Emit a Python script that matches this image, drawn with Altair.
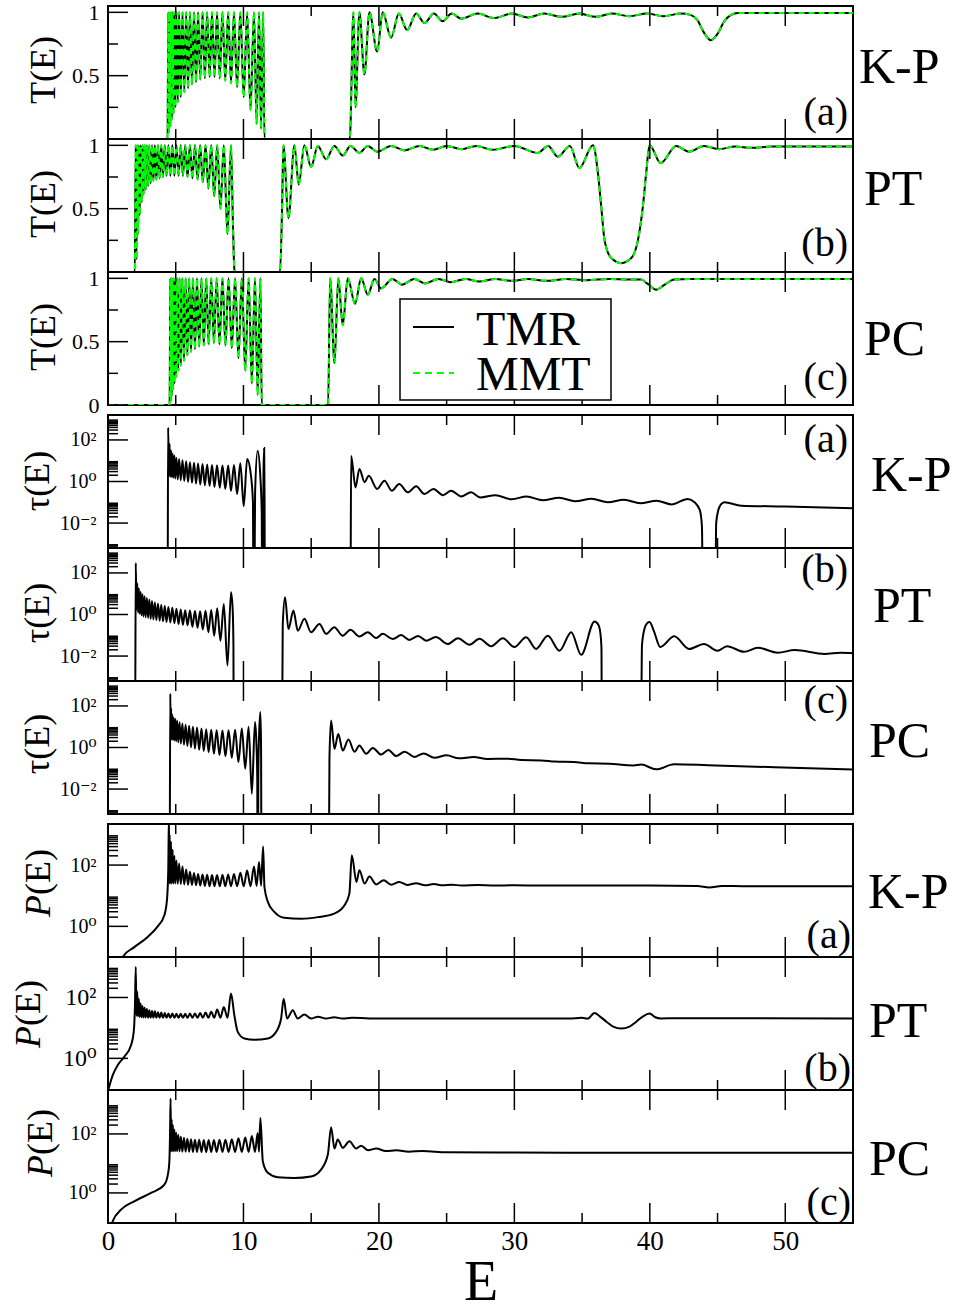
import altair as alt
import pandas as pd

FONT = "Liberation Serif"
W, H = 745, 133
TMAJ, TMIN = 20, 10

# ---------------- tick / label values ----------------
E_MAJOR_TICKS = [0, 10, 20, 30, 40, 50]
E_MINOR_TICKS = [5, 15, 25, 35, 45]
T_MAJOR_TICKS = [0, 0.5, 1]
T_MINOR_TICKS = [0.25, 0.75]
TAU_MAJOR_TICKS = [0.01, 1, 100]
TAU_MINOR_TICKS = [7e-4, 8e-4, 9e-4,
                   0.02, 0.03, 0.04, 0.05, 0.06, 0.07, 0.08, 0.09,
                   2, 3, 4, 5, 6, 7, 8, 9,
                   200, 300, 400, 500, 600, 700, 800, 900]
P_MAJOR_TICKS = [1, 100]
P_MINOR_TICKS = [2, 3, 4, 5, 6, 7, 8, 9, 200, 300, 400, 500, 600, 700, 800, 900]

# ---------------- data: (E, value) ----------------
T_KP = [(0, 0), (4.38, 0), (4.40, 0), (4.45, 1.0), (4.50, 0.05), (4.55, 1.0), (4.60, 0.10), (4.65, 1.0),
        (4.71, 0.15), (4.77, 1.0), (4.83, 0.20), (4.90, 1.0), (4.97, 0.25), (5.05, 1.0), (5.15, 0.29),
        (5.25, 1.0), (5.37, 0.33), (5.50, 1.0), (5.63, 0.37), (5.77, 1.0), (5.91, 0.40), (6.05, 1.0),
        (6.20, 0.43), (6.35, 1.0), (6.50, 0.45), (6.65, 1.0), (6.81, 0.47), (6.98, 1.0), (7.15, 0.48),
        (7.32, 1.0), (7.50, 0.49), (7.68, 1.0), (7.86, 0.49), (8.05, 1.0), (8.25, 0.48), (8.45, 1.0),
        (8.66, 0.46), (8.87, 1.0), (9.08, 0.44), (9.30, 1.0), (9.53, 0.41), (9.77, 1.0), (10.02, 0.33),
        (10.27, 1.0), (10.52, 0.23), (10.78, 1.0), (10.97, 0.12), (11.15, 1.0), (11.30, 0.08), (11.45, 1.0),
        (11.55, 0.0), (17.85, 0.0), (18.12, 1.0), (18.27, 0.25), (18.56, 1.0), (18.93, 0.51), (19.30, 1.0),
        (19.87, 0.69), (20.28, 1.0), (20.90, 0.80), (21.47, 0.99), (22.08, 0.86), (22.75, 0.99),
        (23.36, 0.915), (24.05, 0.99), (24.70, 0.93), (25.38, 0.99), (26.07, 0.95), (27.30, 0.99),
        (28.50, 0.955), (29.80, 0.99), (31.00, 0.96), (32.20, 0.99), (33.50, 0.965), (34.80, 0.99),
        (36.00, 0.965), (37.20, 0.99), (38.50, 0.97), (39.80, 0.99), (41.00, 0.97), (42.30, 0.99),
        (43.00, 0.98), (43.50, 0.94), (44.00, 0.84), (44.50, 0.78), (45.00, 0.83), (45.50, 0.93),
        (46.00, 0.98), (46.50, 0.995), (55.0, 0.995)]

T_PT = [(0, 0), (1.98, 0), (2.05, 1.0), (2.10, 0.10), (2.16, 1.0), (2.22, 0.30), (2.28, 1.0), (2.34, 0.45),
        (2.41, 1.0), (2.48, 0.55), (2.55, 1.0), (2.62, 0.61), (2.70, 1.0), (2.78, 0.65), (2.87, 1.0),
        (2.96, 0.68), (3.05, 1.0), (3.15, 0.70), (3.25, 1.0), (3.35, 0.72), (3.46, 1.0), (3.57, 0.73),
        (3.69, 1.0), (3.81, 0.74), (3.93, 1.0), (4.06, 0.75), (4.19, 1.0), (4.32, 0.76), (4.46, 1.0),
        (4.60, 0.76), (4.75, 1.0), (4.90, 0.76), (5.05, 1.0), (5.21, 0.76), (5.37, 1.0), (5.53, 0.76),
        (5.70, 1.0), (5.87, 0.75), (6.05, 1.0), (6.23, 0.74), (6.42, 1.0), (6.61, 0.73), (6.80, 1.0),
        (7.00, 0.71), (7.20, 1.0), (7.41, 0.66), (7.62, 1.0), (7.84, 0.60), (8.06, 1.0), (8.30, 0.50),
        (8.55, 1.0), (8.82, 0.30), (9.08, 1.0), (9.22, 0.40), (9.33, 0.02), (9.45, 0.0), (12.70, 0.0),
        (12.85, 0.5), (12.95, 1.0), (13.32, 0.425), (13.76, 1.0), (14.08, 0.69), (14.50, 1.0),
        (14.99, 0.83), (15.49, 0.995), (16.10, 0.89), (16.71, 0.995), (17.33, 0.92), (17.90, 0.995),
        (18.56, 0.94), (19.18, 0.995), (19.87, 0.95), (20.90, 0.995), (21.90, 0.96), (23.00, 0.995),
        (24.00, 0.965), (25.00, 0.995), (26.10, 0.97), (27.20, 0.995), (28.40, 0.965), (30.00, 0.995),
        (31.70, 0.94), (32.50, 0.995), (33.20, 0.91), (34.10, 0.995), (34.80, 0.82), (35.80, 1.0),
        (36.17, 0.78), (36.41, 0.52), (36.66, 0.25), (37.15, 0.11), (37.89, 0.07), (38.63, 0.11),
        (39.12, 0.25), (39.49, 0.52), (39.73, 0.78), (39.98, 1.0), (40.80, 0.86), (41.95, 0.995),
        (42.90, 0.95), (44.00, 0.995), (45.10, 0.97), (46.30, 0.99), (47.50, 0.98), (49.00, 0.99),
        (55.0, 0.99)]

T_PC = [(0, 0), (4.55, 0), (4.60, 1.0), (4.63, 0.03), (4.66, 1.0), (4.70, 0.07), (4.74, 1.0), (4.79, 0.12),
        (4.84, 1.0), (4.90, 0.17), (4.96, 1.0), (5.03, 0.22), (5.10, 1.0), (5.19, 0.27), (5.28, 1.0),
        (5.38, 0.31), (5.49, 1.0), (5.61, 0.35), (5.73, 1.0), (5.86, 0.39), (5.99, 1.0), (6.13, 0.42),
        (6.27, 1.0), (6.42, 0.44), (6.57, 1.0), (6.73, 0.46), (6.90, 1.0), (7.07, 0.47), (7.25, 1.0),
        (7.43, 0.48), (7.62, 1.0), (7.82, 0.49), (8.02, 1.0), (8.23, 0.48), (8.45, 1.0), (8.67, 0.47),
        (8.90, 1.0), (9.14, 0.45), (9.38, 1.0), (9.63, 0.37), (9.88, 1.0), (10.13, 0.27), (10.38, 1.0),
        (10.62, 0.17), (10.85, 1.0), (11.05, 0.08), (11.25, 1.0), (11.35, 0.0), (16.25, 0.0), (16.40, 1.0),
        (16.72, 0.33), (17.00, 1.0), (17.33, 0.63), (17.70, 1.0), (18.24, 0.80), (18.69, 1.0), (19.18, 0.87),
        (19.67, 0.995), (20.16, 0.92), (21.0, 0.995), (21.7, 0.95), (22.6, 0.995), (23.4, 0.96),
        (24.4, 0.995), (25.3, 0.97), (26.4, 0.995), (27.4, 0.975), (28.6, 0.995), (29.8, 0.98),
        (31.0, 0.995), (32.4, 0.98), (33.8, 0.995), (35.3, 0.985), (37.0, 0.995), (38.5, 0.99),
        (39.37, 0.99), (39.8, 0.96), (40.47, 0.91), (41.1, 0.95), (41.8, 0.99), (43.0, 0.995), (55.0, 0.995)]

TAU_KP = [(0, 1e-6), (4.40, 1e-6), (4.44, 400), (4.50, 1.8), (4.55, 63), (4.60, 1.7), (4.65, 32), (4.71, 1.6),
          (4.77, 22), (4.83, 1.5), (4.90, 18), (4.97, 1.4), (5.05, 14), (5.15, 1.26), (5.25, 12), (5.37, 1.15),
          (5.50, 10.5), (5.63, 1.05), (5.77, 9.3), (5.91, 0.95), (6.05, 8.5), (6.20, 0.87), (6.35, 7.9),
          (6.50, 0.79), (6.65, 7.4), (6.81, 0.72), (6.98, 6.9), (7.15, 0.66), (7.32, 6.6), (7.50, 0.6),
          (7.68, 6.3), (7.86, 0.55), (8.05, 6.0), (8.25, 0.5), (8.45, 5.9), (8.66, 0.44), (8.87, 5.9),
          (9.08, 0.35), (9.30, 6.3), (9.53, 0.25), (9.77, 7.6), (10.02, 0.065), (10.27, 12), (10.55, 2.0),
          (10.70, 0.1), (10.74, 1e-6), (10.80, 1e-6), (10.86, 0.32), (11.05, 30), (11.25, 1.6), (11.35, 0.032),
          (11.38, 1e-6), (11.44, 1e-6), (11.48, 3.2), (11.53, 41), (11.56, 0.1), (11.58, 1e-6), (17.90, 1e-6),
          (17.95, 17), (18.27, 0.52), (18.56, 4.0), (18.94, 0.93), (19.25, 1.9), (19.87, 0.44), (20.41, 1.1),
          (20.95, 0.36), (21.50, 0.76), (22.13, 0.3), (22.75, 0.59), (23.36, 0.25), (24.03, 0.44),
          (24.72, 0.22), (25.33, 0.36), (26.07, 0.19), (26.80, 0.3), (27.5, 0.17), (28.6, 0.22), (29.8, 0.14),
          (30.9, 0.19), (32.1, 0.126), (33.3, 0.166), (34.5, 0.112), (35.7, 0.148), (36.9, 0.1), (38.1, 0.132),
          (39.3, 0.089), (40.5, 0.12), (41.6, 0.079), (42.8, 0.145), (43.3, 0.1), (43.7, 0.04), (43.85, 0.0063),
          (43.92, 1e-6), (44.83, 1e-6), (44.9, 0.01), (45.05, 0.04), (45.25, 0.079), (45.5, 0.1),
          (46.75, 0.069), (50.0, 0.063), (55.0, 0.051)]

TAU_PT = [(0, 1e-6), (2.00, 1e-6), (2.05, 302), (2.10, 1.58), (2.16, 31.6), (2.22, 1.26), (2.28, 17.8),
          (2.34, 1.05), (2.41, 12.6), (2.48, 0.91), (2.55, 9.5), (2.62, 0.81), (2.70, 7.6), (2.78, 0.74),
          (2.87, 6.3), (2.96, 0.68), (3.05, 5.2), (3.15, 0.62), (3.25, 4.5), (3.35, 0.58), (3.46, 3.8),
          (3.57, 0.54), (3.69, 3.3), (3.81, 0.5), (3.93, 2.9), (4.06, 0.47), (4.19, 2.6), (4.32, 0.44),
          (4.46, 2.3), (4.60, 0.41), (4.75, 2.1), (4.90, 0.38), (5.05, 1.9), (5.21, 0.35), (5.37, 1.74),
          (5.53, 0.32), (5.70, 1.62), (5.87, 0.3), (6.05, 1.55), (6.23, 0.26), (6.42, 1.48), (6.61, 0.23),
          (6.80, 1.45), (7.00, 0.19), (7.20, 1.51), (7.41, 0.14), (7.62, 1.66), (7.84, 0.095), (8.06, 2.0),
          (8.30, 0.055), (8.55, 3.2), (8.82, 0.0035), (9.08, 11.7), (9.20, 2.0), (9.26, 0.032), (9.28, 1e-6),
          (12.85, 1e-6), (12.90, 0.32), (13.07, 6.8), (13.32, 0.2), (13.69, 1.55), (14.01, 0.166),
          (14.50, 0.62), (14.99, 0.14), (15.61, 0.35), (16.10, 0.117), (16.71, 0.245), (17.33, 0.095),
          (17.90, 0.186), (18.56, 0.087), (19.18, 0.141), (19.80, 0.074), (20.28, 0.117), (21.03, 0.066),
          (21.64, 0.102), (22.25, 0.06), (22.90, 0.093), (23.49, 0.055), (24.20, 0.083), (25.09, 0.038),
          (25.83, 0.072), (26.69, 0.035), (27.42, 0.068), (28.29, 0.03), (29.15, 0.072), (30.00, 0.027),
          (30.87, 0.081), (31.60, 0.022), (32.47, 0.095), (33.33, 0.018), (34.20, 0.141), (34.93, 0.0115),
          (35.92, 0.46), (36.20, 0.32), (36.35, 0.126), (36.43, 0.025), (36.46, 1e-6), (39.35, 1e-6),
          (39.42, 0.032), (39.60, 0.2), (39.80, 0.38), (39.98, 0.43), (40.30, 0.16), (40.77, 0.027),
          (41.80, 0.089), (42.90, 0.022), (44.00, 0.038), (45.00, 0.018), (45.70, 0.03), (46.96, 0.016),
          (47.98, 0.025), (49.45, 0.0145), (50.70, 0.0195), (52.90, 0.0126), (54.10, 0.0145), (55.0, 0.0138)]

TAU_PC = [(0, 1e-6), (4.55, 1e-6), (4.60, 389), (4.63, 2.5), (4.66, 79), (4.70, 2.4), (4.74, 40), (4.79, 2.3),
          (4.84, 28), (4.90, 2.2), (4.96, 24.5), (5.03, 2.0), (5.10, 20), (5.19, 1.78), (5.28, 16.6),
          (5.38, 1.55), (5.49, 14.1), (5.61, 1.35), (5.73, 12.6), (5.86, 1.17), (5.99, 11.2), (6.13, 1.02),
          (6.27, 10), (6.42, 0.89), (6.57, 9.1), (6.73, 0.78), (6.90, 8.3), (7.07, 0.68), (7.25, 7.6),
          (7.43, 0.59), (7.62, 7.1), (7.82, 0.5), (8.02, 6.8), (8.23, 0.44), (8.45, 6.6), (8.67, 0.38),
          (8.90, 6.8), (9.14, 0.32), (9.38, 7.2), (9.63, 0.2), (9.88, 8.3), (10.13, 0.095), (10.38, 10),
          (10.62, 0.006), (10.85, 17), (10.95, 2.0), (11.02, 0.032), (11.04, 1e-6), (11.07, 1e-6),
          (11.10, 0.063), (11.15, 3.2), (11.25, 51), (11.30, 1.0), (11.33, 1e-6), (16.30, 1e-6),
          (16.35, 0.32), (16.47, 20), (16.72, 0.85), (17.00, 4.5), (17.33, 0.71), (17.75, 2.4), (18.20, 0.62),
          (18.56, 1.26), (19.05, 0.5), (19.55, 0.95), (20.16, 0.46), (20.70, 0.76), (21.27, 0.39),
          (21.90, 0.63), (22.62, 0.35), (23.30, 0.52), (24.10, 0.32), (25.00, 0.42), (25.90, 0.3),
          (27.00, 0.35), (28.00, 0.28), (29.50, 0.29), (30.50, 0.25), (32.00, 0.24), (33.00, 0.21),
          (34.40, 0.2), (35.50, 0.174), (37.00, 0.166), (38.80, 0.138), (39.37, 0.15), (40.47, 0.089),
          (41.80, 0.155), (44.30, 0.141), (49.20, 0.112), (55.0, 0.087)]

P_KP = [(0.90, 0.05), (1.08, 0.1), (1.94, 0.21), (2.93, 0.45), (3.67, 1.0), (4.16, 2.3), (4.36, 7.9),
        (4.45, 78), (4.50, 4000), (4.53, 25), (4.55, 1000), (4.60, 25), (4.65, 575), (4.71, 25), (4.77, 316),
        (4.83, 25), (4.90, 200), (4.97, 25), (5.05, 141), (5.15, 24.5), (5.25, 112), (5.37, 24), (5.50, 89),
        (5.63, 23.4), (5.77, 71), (5.91, 22.9), (6.05, 60), (6.20, 22.4), (6.35, 55), (6.50, 21.9), (6.65, 51),
        (6.81, 21.4), (6.98, 49), (7.15, 20.9), (7.32, 48), (7.50, 20.4), (7.68, 47), (7.86, 20.4), (8.05, 47),
        (8.25, 20.4), (8.45, 48), (8.66, 20.4), (8.87, 49), (9.08, 20.4), (9.30, 51), (9.53, 20.4), (9.77, 56),
        (10.02, 20.4), (10.27, 66), (10.52, 20.4), (10.78, 89), (10.97, 20.9), (11.15, 126), (11.30, 21.4),
        (11.45, 400), (11.55, 19.5), (11.80, 6.3), (12.28, 2.95), (13.00, 1.9), (14.25, 1.78), (15.50, 2.0),
        (16.70, 2.6), (17.45, 4.8), (17.82, 11.7), (18.00, 209), (18.34, 28), (18.56, 68), (18.94, 25),
        (19.30, 42), (19.80, 23.4), (20.35, 32), (20.90, 22.9), (21.50, 28), (22.10, 22.4), (22.75, 25.7),
        (23.40, 21.9), (24.05, 24), (24.70, 21.9), (25.40, 22.9), (26.10, 21.4), (27.30, 22.4), (28.50, 21.4),
        (30.00, 21.9), (32.00, 21.4), (35.00, 21.4), (40.00, 21.4), (43.50, 20.9), (44.40, 18.6),
        (45.30, 20.9), (47.00, 20.4), (55.0, 20.4)]

P_PT = [(0.02, 0.091), (0.35, 0.28), (0.72, 0.6), (1.20, 1.12), (1.70, 2.7), (1.90, 7.4), (1.99, 55),
        (2.05, 1000), (2.10, 25), (2.16, 158), (2.22, 24), (2.28, 89), (2.34, 23), (2.41, 63), (2.48, 22.4),
        (2.55, 52), (2.62, 21.9), (2.70, 46), (2.78, 21.9), (2.87, 42), (2.96, 21.4), (3.05, 38), (3.15, 21.4),
        (3.25, 36), (3.35, 21.4), (3.46, 35), (3.57, 21.4), (3.69, 33), (3.81, 21.4), (3.93, 32), (4.06, 21.4),
        (4.19, 31), (4.32, 21.4), (4.46, 30), (4.60, 21.4), (4.75, 29.5), (4.90, 21.4), (5.05, 29), (5.21, 21.4),
        (5.37, 29), (5.53, 21.4), (5.70, 29), (5.87, 21.4), (6.05, 29.5), (6.23, 21.4), (6.42, 30), (6.61, 21.4),
        (6.80, 31), (7.00, 21.4), (7.20, 32), (7.41, 21.4), (7.62, 34), (7.84, 21.4), (8.06, 40), (8.30, 21.4),
        (8.55, 49), (8.82, 21.4), (9.08, 135), (9.33, 25.7), (9.58, 7.4), (10.07, 4.5), (10.81, 4.1),
        (11.80, 4.5), (12.41, 7.4), (12.78, 20.4), (12.97, 91), (13.22, 20.4), (13.64, 38), (14.00, 20.4),
        (14.50, 27.5), (14.99, 20.4), (15.50, 23.4), (16.10, 20.4), (16.70, 22.4), (17.30, 20.4), (18.00, 21.4),
        (20.00, 20.4), (25.00, 20.4), (30.00, 20.4), (34.00, 20.4), (35.00, 21.4), (35.40, 20.0), (35.92, 31),
        (36.30, 24), (36.80, 16), (37.30, 11), (37.89, 9.5), (38.50, 11), (39.00, 16), (39.50, 24),
        (39.98, 29.5), (40.40, 22.4), (40.80, 20.4), (42.00, 20.9), (55.0, 20.4)]

P_PC = [(0.30, 0.085), (0.35, 0.11), (0.96, 0.27), (1.94, 0.52), (3.18, 1.0), (4.16, 1.9), (4.45, 5.0),
        (4.53, 11.7), (4.58, 100), (4.62, 1585), (4.66, 26), (4.70, 316), (4.74, 26), (4.79, 200), (4.84, 26),
        (4.90, 141), (4.96, 26), (5.03, 112), (5.10, 25.7), (5.19, 93), (5.28, 25.7), (5.38, 81), (5.49, 25.1),
        (5.61, 74), (5.73, 25.1), (5.86, 69), (5.99, 25.1), (6.13, 66), (6.27, 24.5), (6.42, 63), (6.57, 24.5),
        (6.73, 63), (6.90, 24.5), (7.07, 62), (7.25, 24.5), (7.43, 62), (7.62, 24.5), (7.82, 62), (8.02, 24.5),
        (8.23, 63), (8.45, 24.5), (8.67, 63), (8.90, 24.5), (9.14, 66), (9.38, 24.5), (9.63, 71), (9.88, 24.5),
        (10.13, 76), (10.38, 24.5), (10.62, 85), (10.85, 24.5), (11.05, 107), (11.15, 25.1), (11.25, 347),
        (11.43, 11.7), (11.80, 4.8), (12.53, 3.4), (13.76, 3.2), (14.99, 3.6), (15.73, 6.2), (16.23, 20),
        (16.47, 170), (16.72, 32), (16.96, 65), (17.33, 34), (17.82, 56), (18.32, 32), (18.69, 40),
        (19.20, 28), (19.80, 32), (20.50, 26.3), (21.30, 28), (22.20, 25.1), (23.20, 26.3), (25.00, 24),
        (30.00, 23.4), (40.00, 22.9), (55.0, 22.9)]

LEGEND_NAMES = ["TMR", "MMT"]

# ---------------- scales ----------------
XSCALE = alt.Scale(domain=[0, 55], nice=False, zero=False)
T_SCALE = alt.Scale(domain=[0, 1.05], nice=False, zero=False)
TAU_SCALE = alt.Scale(type="log", domain=[6.31e-4, 1585], nice=False)
P_SCALE_A = alt.Scale(type="log", domain=[0.1, 2188], nice=False)
P_SCALE_B = alt.Scale(type="log", domain=[0.0912, 2138], nice=False)
P_SCALE_C = alt.Scale(type="log", domain=[0.0955, 3090], nice=False)

LABEL_FONT = "Liberation Serif, DejaVu Serif"


def x_axis(bottom=False):
    if not bottom:
        return None
    return alt.Axis(values=E_MAJOR_TICKS, format="d", ticks=False, domain=False, grid=False,
                    labelFont=LABEL_FONT, labelFontSize=27, labelPadding=5, labelFlush=False,
                    labelColor="black", title="E", titleFont=FONT, titleFontSize=56,
                    titleFontWeight="normal", titlePadding=1, titleColor="black")


def y_axis(values, size, pad, expr=None, fmt=None):
    kw = dict(values=values, ticks=False, domain=False, grid=False, labelFont=LABEL_FONT,
              labelFontSize=size, labelPadding=pad, labelColor="black", title=None)
    if expr:
        kw["labelExpr"] = expr
    if fmt:
        kw["format"] = fmt
    return alt.Axis(**kw)


def frame(yscale, yax, xax, ymaj, ymin):
    layers = []
    for vals, L in ((E_MAJOR_TICKS, TMAJ), (E_MINOR_TICKS, TMIN)):
        d = pd.DataFrame({"E": vals})
        layers.append(alt.Chart(d).mark_rule(color="black", strokeWidth=1.5).encode(
            x=alt.X("E:Q", scale=XSCALE, axis=xax), y=alt.value(0), y2=alt.value(L)))
        layers.append(alt.Chart(d).mark_rule(color="black", strokeWidth=1.5).encode(
            x=alt.X("E:Q", scale=XSCALE, axis=xax), y=alt.value(H), y2=alt.value(H - L)))
    for vals, L in ((ymaj, TMAJ), (ymin, TMIN)):
        d = pd.DataFrame({"v": vals})
        layers.append(alt.Chart(d).mark_rule(color="black", strokeWidth=1.5, clip=True).encode(
            y=alt.Y("v:Q", scale=yscale, axis=yax), x=alt.value(0), x2=alt.value(L)))
    return layers


def txt(t, x, y, size, align="left", baseline="alphabetic", angle=0, style="normal"):
    d = pd.DataFrame({"t": [t]})
    return alt.Chart(d).mark_text(font=FONT, fontSize=size, align=align, baseline=baseline,
                                  angle=angle, fontStyle=style, color="black").encode(
        text="t:N", x=alt.value(x), y=alt.value(y))


def t_panel(pairs, yvals, name, name_dx, name_by, tag, tag_by, title_y, legend=False):
    d = pd.DataFrame(pairs, columns=["E", "v"])
    yax = y_axis(yvals, 22, 9, fmt="~g")
    xax = x_axis(False)
    black = alt.Chart(d).mark_line(color="black", strokeWidth=2, clip=True, interpolate="monotone").encode(
        x=alt.X("E:Q", scale=XSCALE, axis=xax), y=alt.Y("v:Q", scale=T_SCALE, axis=yax))
    green = alt.Chart(d).mark_line(color="#00ff00", strokeWidth=2, strokeDash=[6, 4], clip=True,
                                   interpolate="monotone").encode(
        x=alt.X("E:Q", scale=XSCALE, axis=xax), y=alt.Y("v:Q", scale=T_SCALE, axis=yax))
    layers = [black, green] + frame(T_SCALE, yax, xax, T_MAJOR_TICKS, T_MINOR_TICKS)
    layers += [txt(name, W + name_dx, name_by, 50),
               txt(tag, W - 5, H - tag_by, 40, align="right"),
               txt("T(E)", -64, title_y, 36, align="center", baseline="middle", angle=270)]
    if legend:
        box = pd.DataFrame({"k": [0]})
        layers.append(alt.Chart(box).mark_rect(fill="white", stroke="black", strokeWidth=1.5).encode(
            x=alt.value(292), x2=alt.value(503), y=alt.value(27), y2=alt.value(128)))
        layers.append(alt.Chart(box).mark_rule(color="black", strokeWidth=2).encode(
            x=alt.value(305), x2=alt.value(346), y=alt.value(55)))
        layers.append(alt.Chart(box).mark_rule(color="#00ff00", strokeWidth=2, strokeDash=[7, 5]).encode(
            x=alt.value(305), x2=alt.value(346), y=alt.value(101)))
        layers.append(txt(LEGEND_NAMES[0], 368, 73, 48))
        layers.append(txt(LEGEND_NAMES[1], 368, 118, 48))
    return alt.layer(*layers).properties(width=W, height=H)


TAU_EXPR = "datum.value < 0.1 ? '10\u207b\u00b2' : (datum.value < 10 ? '10\u2070' : '10\u00b2')"
P_EXPR = "datum.value < 10 ? '10\u2070' : '10\u00b2'"


def tau_panel(pairs, name, name_dx, name_by, tag, tag_by, title_y):
    d = pd.DataFrame(pairs, columns=["E", "v"])
    yax = y_axis(TAU_MAJOR_TICKS, 20, 12, expr=TAU_EXPR)
    xax = x_axis(False)
    line = alt.Chart(d).mark_line(color="black", strokeWidth=2, clip=True, interpolate="monotone").encode(
        x=alt.X("E:Q", scale=XSCALE, axis=xax), y=alt.Y("v:Q", scale=TAU_SCALE, axis=yax))
    layers = [line] + frame(TAU_SCALE, yax, xax, TAU_MAJOR_TICKS, TAU_MINOR_TICKS)
    layers += [txt(name, W + name_dx, name_by, 50),
               txt(tag, W - 5, tag_by, 40, align="right"),
               txt("\u03c4(E)", -70, title_y, 36, align="center", baseline="middle", angle=270)]
    return alt.layer(*layers).properties(width=W, height=H)


def p_panel(pairs, yscale, lab_size, name, name_dx, name_by, tag, tag_by, title_x, title_y, bottom=False):
    d = pd.DataFrame(pairs, columns=["E", "v"])
    yax = y_axis(P_MAJOR_TICKS, lab_size, 12, expr=P_EXPR)
    xax = x_axis(bottom)
    line = alt.Chart(d).mark_line(color="black", strokeWidth=2, clip=True, interpolate="monotone").encode(
        x=alt.X("E:Q", scale=XSCALE, axis=xax), y=alt.Y("v:Q", scale=yscale, axis=yax))
    layers = [line] + frame(yscale, yax, xax, P_MAJOR_TICKS, P_MINOR_TICKS)
    layers += [txt(name, W + name_dx, name_by, 50),
               txt(tag, W - 2, H - tag_by, 40, align="right"),
               txt("P", title_x, title_y, 36, align="right", baseline="middle", angle=270, style="italic"),
               txt("(E)", title_x, title_y, 36, align="left", baseline="middle", angle=270)]
    return alt.layer(*layers).properties(width=W, height=H)


def spacer():
    d = pd.DataFrame({"k": [0]})
    return alt.Chart(d).mark_point(opacity=0).encode(
        x=alt.value(0), y=alt.value(0)
    ).properties(width=W, height=10, view=alt.ViewBackground(stroke=None, strokeWidth=0))


p1 = t_panel(T_KP, [0.5, 1], "K-P", 6, 77, "(a)", 14.5, 64)
p2 = t_panel(T_PT, [0.5, 1], "PT", 11, 66, "(b)", 16, 65)
p3 = t_panel(T_PC, [0, 0.5, 1], "PC", 11, 83, "(c)", 14.7, 65, legend=True)

p4 = tau_panel(TAU_KP, "K-P", 18, 76, "(a)", 37, 66)
p5 = tau_panel(TAU_PT, "PT", 20, 74, "(b)", 34, 65)
p6 = tau_panel(TAU_PC, "PC", 16, 76, "(c)", 32, 63)

p7 = p_panel(P_KP, P_SCALE_A, 20, "K-P", 15, 84, "(a)", 9, -69, 71)
p8 = p_panel(P_PT, P_SCALE_B, 24, "PT", 16, 80, "(b)", 9, -79, 69)
p9 = p_panel(P_PC, P_SCALE_C, 20, "PC", 16, 85, "(c)", 8.5, -67, 65, bottom=True)

chart = alt.vconcat(p1, p2, p3, spacer(), p4, p5, p6, spacer(), p7, p8, p9,
                    spacing=0, bounds="flush").properties(
    padding={"left": 10, "top": 0, "right": 2, "bottom": 0},
    background="white",
).configure_view(stroke="black", strokeWidth=2)

chart.save("out.html", embed_options={"renderer": "svg", "actions": False})
